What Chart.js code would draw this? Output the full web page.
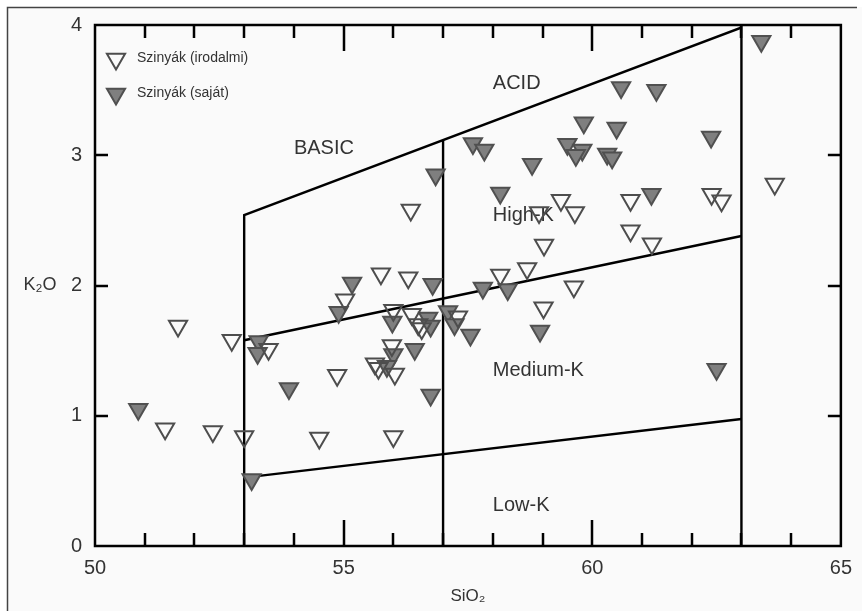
<!DOCTYPE html>
<html><head><meta charset="utf-8">
<script src="https://cdn.jsdelivr.net/npm/chart.js@4/dist/chart.umd.min.js"></script>
<style>html,body{margin:0;padding:0;background:#fff}#wrap{width:862px;height:611px;position:relative}</style>
</head><body><div id="wrap"><canvas id="c" width="862" height="611"></canvas></div>
<script>
// ---- data ----
const seriesLabels = ['Szinyák (irodalmi)', 'Szinyák (saját)'];
const irodalmiSiO2 = [51.67,52.75,53.49,54.87,51.41,52.37,53.0,54.51,56.0,55.97,55.63,55.7,56.03,55.03,56.0,56.37,56.5,56.57,57.3,55.75,56.3,56.35,58.15,58.69,59.63,59.02,59.03,58.93,59.65,59.37,60.77,60.77,61.2,62.4,62.6,63.67];
const irodalmiK2O  = [1.69,1.58,1.51,1.31,0.90,0.88,0.84,0.83,0.84,1.54,1.40,1.365,1.32,1.89,1.81,1.78,1.70,1.67,1.76,2.09,2.06,2.58,2.08,2.13,1.99,1.83,2.31,2.56,2.56,2.655,2.655,2.42,2.32,2.70,2.65,2.78];
const sajatSiO2 = [63.4,60.58,61.29,59.83,60.49,62.39,57.6,57.83,59.5,59.8,59.67,60.3,60.4,58.79,56.85,58.15,61.19,55.17,56.79,57.8,58.3,54.9,55.98,56.7,56.75,57.1,57.23,57.55,58.95,53.29,53.27,53.9,50.87,53.15,56.75,56.43,56.0,55.87,62.5];
const sajatK2O  = [3.875,3.52,3.50,3.25,3.21,3.14,3.09,3.04,3.085,3.04,3.0,3.01,2.98,2.93,2.85,2.71,2.70,2.02,2.01,1.98,1.97,1.795,1.72,1.75,1.69,1.80,1.70,1.62,1.65,1.57,1.48,1.21,1.05,0.51,1.16,1.51,1.47,1.38,1.357];
const xTickValues = [50,55,60,65];
const yTickValues = [0,1,2,3,4];
// field boundaries
const outerFieldX = [53,53,63,63];
const outerFieldY = [0,2.54,3.98,0];
const midLineX = [57,57];
const midLineY = [0,3.116];
const highKLineX = [53,63];
const highKLineY = [1.58,2.38];
const lowKLineX = [53,63];
const lowKLineY = [0.525,0.975];
// field names
const fieldNames = ['BASIC','ACID','High-K','Medium-K','Low-K'];
const fieldX = [54,58,58,58,58];
const fieldY = [3.05,3.55,2.54,1.35,0.31];

const xTitle = 'SiO₂';
const yTitle = 'K₂O';

function pts(xs, ys){ return xs.map((x,i)=>({x:x, y:ys[i]})); }
function lineDs(xs, ys){
  return {type:'line', data:pts(xs,ys), showLine:true, borderColor:'#000', borderWidth:2.4, pointRadius:0, fill:false, tension:0, order:5};
}

const FONT = "'Liberation Sans', Arial, sans-serif";
const TRI_R = 10.5;
const TARGET = {left:95, top:19, right:845, bottom:546};

function tri(ctx, x, y, r, fill, stroke){
  ctx.save();
  ctx.beginPath();
  ctx.moveTo(x - r*Math.sqrt(3)/2, y - r/2);
  ctx.lineTo(x + r*Math.sqrt(3)/2, y - r/2);
  ctx.lineTo(x, y + r);
  ctx.closePath();
  if (fill) { ctx.fillStyle = fill; ctx.fill(); }
  ctx.lineWidth = 2; ctx.strokeStyle = stroke; ctx.stroke();
  ctx.restore();
}

const decor = {
  id:'decor',
  beforeDraw(chart){
    const ctx = chart.ctx;
    ctx.save();
    ctx.fillStyle = '#ffffff'; ctx.fillRect(0,0,chart.width,chart.height);
    ctx.fillStyle = '#fafafa'; ctx.fillRect(7,7,chart.width-7,chart.height-7);
    ctx.strokeStyle = '#444'; ctx.lineWidth = 1.5;
    ctx.beginPath(); ctx.moveTo(7.5, chart.height); ctx.lineTo(7.5,7.5); ctx.lineTo(857,7.5); ctx.stroke();
    ctx.restore();
  },
  beforeDatasetsDraw(chart){
    const ctx = chart.ctx, xs = chart.scales.x, ys = chart.scales.y;
    ctx.save();
    ctx.fillStyle = '#333'; ctx.font = '20px ' + FONT; ctx.textAlign = 'left'; ctx.textBaseline = 'middle';
    fieldNames.forEach((n,i)=>{ ctx.fillText(n, xs.getPixelForValue(fieldX[i]), ys.getPixelForValue(fieldY[i])); });
    ctx.font = '18px ' + FONT; ctx.textAlign = 'center';
    ctx.fillText(yTitle, 40, ys.getPixelForValue(2));
    ctx.restore();
  },
  afterDatasetsDraw(chart){
    const ctx = chart.ctx, xs = chart.scales.x, ys = chart.scales.y, a = chart.chartArea;
    ctx.save();
    ctx.strokeStyle = '#000'; ctx.lineWidth = 2.5;
    ctx.beginPath();
    for (let v = xs.min + 1; v < xs.max; v++) {
      const px = Math.round(xs.getPixelForValue(v));
      const len = (v % 5 === 0) ? 26 : 13;
      ctx.moveTo(px, a.bottom); ctx.lineTo(px, a.bottom - len);
      ctx.moveTo(px, a.top); ctx.lineTo(px, a.top + len);
    }
    for (let v = ys.min + 1; v < ys.max; v++) {
      const py = Math.round(ys.getPixelForValue(v));
      ctx.moveTo(a.left, py); ctx.lineTo(a.left + 13, py);
      ctx.moveTo(a.right, py); ctx.lineTo(a.right - 13, py);
    }
    ctx.stroke();
    ctx.strokeRect(a.left, a.top, a.right - a.left, a.bottom - a.top);
    // legend
    const lx = a.left + 21, ly = [a.top + 34, a.top + 69];
    tri(ctx, lx, ly[0], TRI_R, null, '#4d4d4d');
    tri(ctx, lx, ly[1], TRI_R, '#7f7f7f', '#505050');
    ctx.fillStyle = '#333'; ctx.font = '14px ' + FONT; ctx.textAlign = 'left'; ctx.textBaseline = 'middle';
    ctx.fillText(seriesLabels[0], a.left + 42, ly[0] - 1);
    ctx.fillText(seriesLabels[1], a.left + 42, ly[1] - 1);
    ctx.restore();
  }
};

const pad = {left:0, right:17, top:19, bottom:0};
const chart = new Chart(document.getElementById('c'), {
  type:'scatter',
  data:{
    datasets:[
      {label:seriesLabels[0], data:pts(irodalmiSiO2, irodalmiK2O), pointStyle:'triangle', rotation:180, pointRadius:TRI_R, backgroundColor:'rgba(0,0,0,0)', borderColor:'#4d4d4d', borderWidth:2, order:0},
      {label:seriesLabels[1], data:pts(sajatSiO2, sajatK2O), pointStyle:'triangle', rotation:180, pointRadius:TRI_R, backgroundColor:'#7f7f7f', borderColor:'#505050', borderWidth:2, order:1},
      lineDs(outerFieldX, outerFieldY),
      lineDs(midLineX, midLineY),
      lineDs(highKLineX, highKLineY),
      lineDs(lowKLineX, lowKLineY)
    ]
  },
  options:{
    responsive:false, animation:false, devicePixelRatio:1,
    layout:{padding:pad},
    plugins:{legend:{display:false}, tooltip:{enabled:false}},
    scales:{
      x:{type:'linear', min:50, max:65,
        afterBuildTicks(scale){ scale.ticks = xTickValues.map(v=>({value:v})); },
        afterFit(scale){ scale.height = 65; },
        ticks:{font:{family:FONT, size:20}, color:'#333', padding:10, maxRotation:0},
        grid:{display:false, drawTicks:false}, border:{display:false},
        title:{display:true, text:xTitle, font:{family:FONT, size:17}, color:'#333', padding:{top:0,bottom:4}}
      },
      y:{type:'linear', min:0, max:4,
        afterBuildTicks(scale){ scale.ticks = yTickValues.map(v=>({value:v})); },
        afterFit(scale){ scale.width = 95; },
        ticks:{font:{family:FONT, size:20}, color:'#333', padding:13},
        grid:{display:false, drawTicks:false}, border:{display:false}
      }
    }
  },
  plugins:[decor]
});
// nudge layout padding so the plot frame lands where the reference has it
for (let k = 0; k < 4; k++) {
  const ca = chart.chartArea;
  const dt = TARGET.top - ca.top, dr = ca.right - TARGET.right, db = ca.bottom - TARGET.bottom;
  if (Math.abs(dt) < 0.5 && Math.abs(dr) < 0.5 && Math.abs(db) < 0.5) break;
  const p = chart.config.options.layout.padding;
  p.top += dt; p.right += dr; p.bottom += db;
  chart.update();
}
</script>
</body></html>
